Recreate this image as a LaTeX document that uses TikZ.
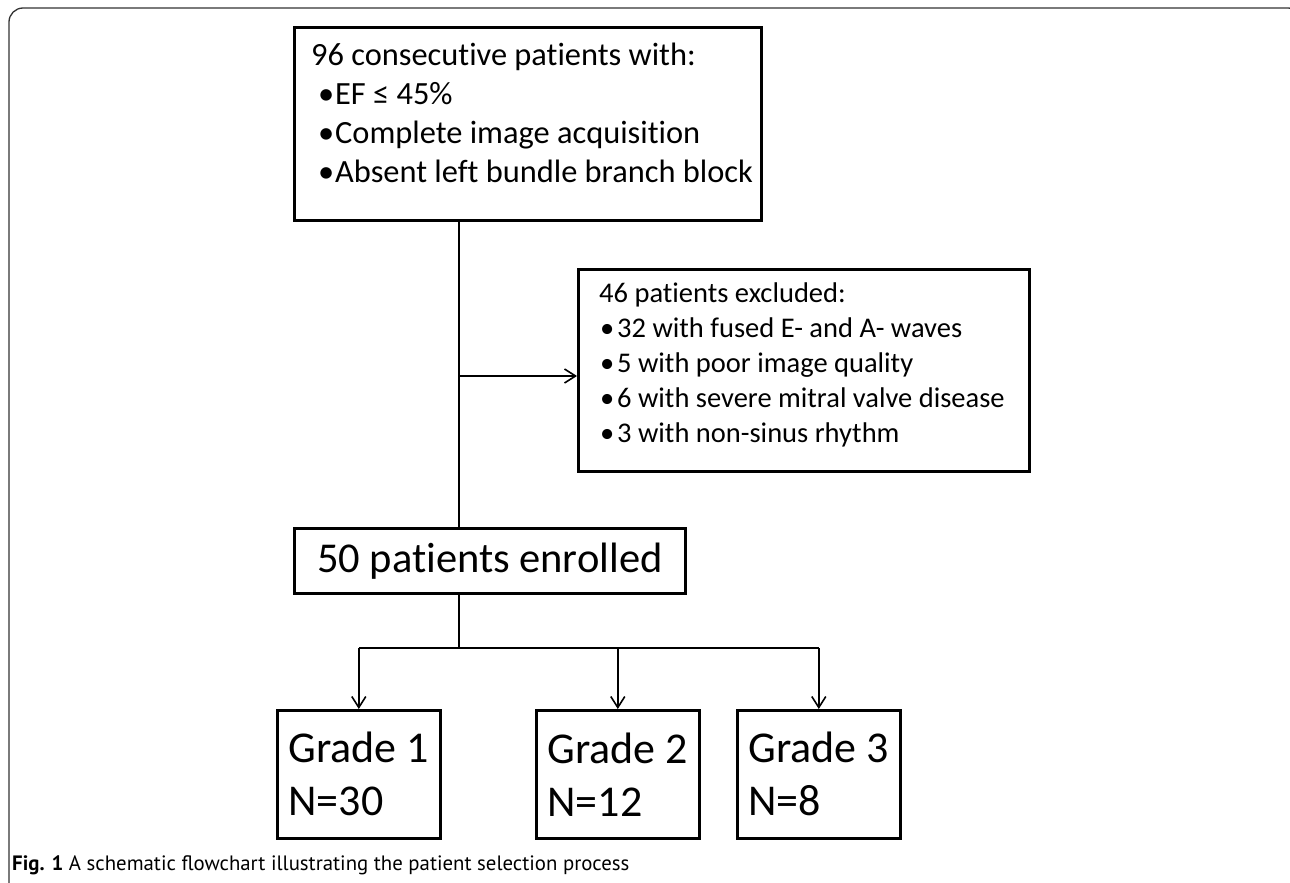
\documentclass[tikz,border=0pt]{standalone}
\usepackage{fontspec}
\setmainfont{Carlito}[Ligatures=CommonOff]
\newfontfamily\capfont{PT Sans}
\usetikzlibrary{arrows.meta}

\newcommand\inclDot{\makebox[24pt][l]{\hspace*{7pt}•}}
\newcommand\exclDot{\makebox[18pt][l]{\hspace*{1pt}•}}

\begin{document}
\begin{tikzpicture}[x=1pt,y=-1pt,
    box/.style={draw,line width=2.6pt,inner sep=0pt,anchor=north west},
    txt/.style={inner sep=0pt,anchor=north west,align=left},
    link/.style={line width=1.6pt},
    arr/.style={link,-{Straight Barb[length=11pt,width=14pt,line width=1.6pt]}}]
    \useasboundingbox (0,0) rectangle (1290,883);
    \draw[line width=1.3pt,black!80,rounded corners=14pt] (9,900) -- (9,8) -- (1302,8) -- (1302,900);

    \node[box,minimum width=467pt,minimum height=193pt] (cohort) at (293,26) {};
    \node[txt,font=\fontsize{32.4}{39}\selectfont] (cohorttxt) at (311,37.7)
        {\strut 96 consecutive patients with:\\
         \inclDot EF ≤ 45\%\\
         \inclDot Complete image acquisition\\
         \inclDot Absent left bundle branch block};

    \node[box,minimum width=451pt,minimum height=202pt] (excluded) at (577,268) {};
    \node[txt,font=\fontsize{28.5}{35}\selectfont] (excludedtxt) at (599,277.5)
        {\strut 46 patients excluded:\\
         \exclDot 32 with fused E- and A- waves\\
         \exclDot 5 with poor image quality\\
         \exclDot 6 with severe mitral valve disease\\
         \exclDot 3 with non-sinus rhythm};

    \node[box,minimum width=391pt,minimum height=65pt,font=\fontsize{42.5}{51}\selectfont] (enrolled) at (293,527) {50 patients enrolled};

    \node[box,minimum width=163pt,minimum height=128pt,align=left,font=\fontsize{44}{53}\selectfont] (grade1) at (276,709) {Grade 1\\N=30};
    \node[box,minimum width=163pt,minimum height=128pt,align=left,font=\fontsize{44}{53}\selectfont] (grade2) at (535,709) {Grade 2\\N=12};
    \node[box,minimum width=163pt,minimum height=128pt,align=left,font=\fontsize{44}{53}\selectfont] (grade3) at (736,709) {Grade 3\\N=8};

    \coordinate (split) at (459,376);
    \coordinate (fork) at (459,648);
    \draw[link] (cohort.south -| split) -- (enrolled.north -| split);
    \draw[arr] (split) -- (split -| excluded.west);
    \draw[link] (enrolled.south -| fork) -- (fork);
    \draw[link] (grade1.north |- fork) -- (grade3.north |- fork);
    \foreach \g in {grade1,grade2,grade3}
        \draw[arr] (\g.north |- fork) -- (\g.north);

    \node[anchor=base west,inner sep=0pt,font=\capfont\fontsize{20.8}{25}\selectfont] (caption) at (12,870)
        {\textbf{Fig. 1} A schematic flowchart illustrating the patient selection process};
\end{tikzpicture}
\end{document}
